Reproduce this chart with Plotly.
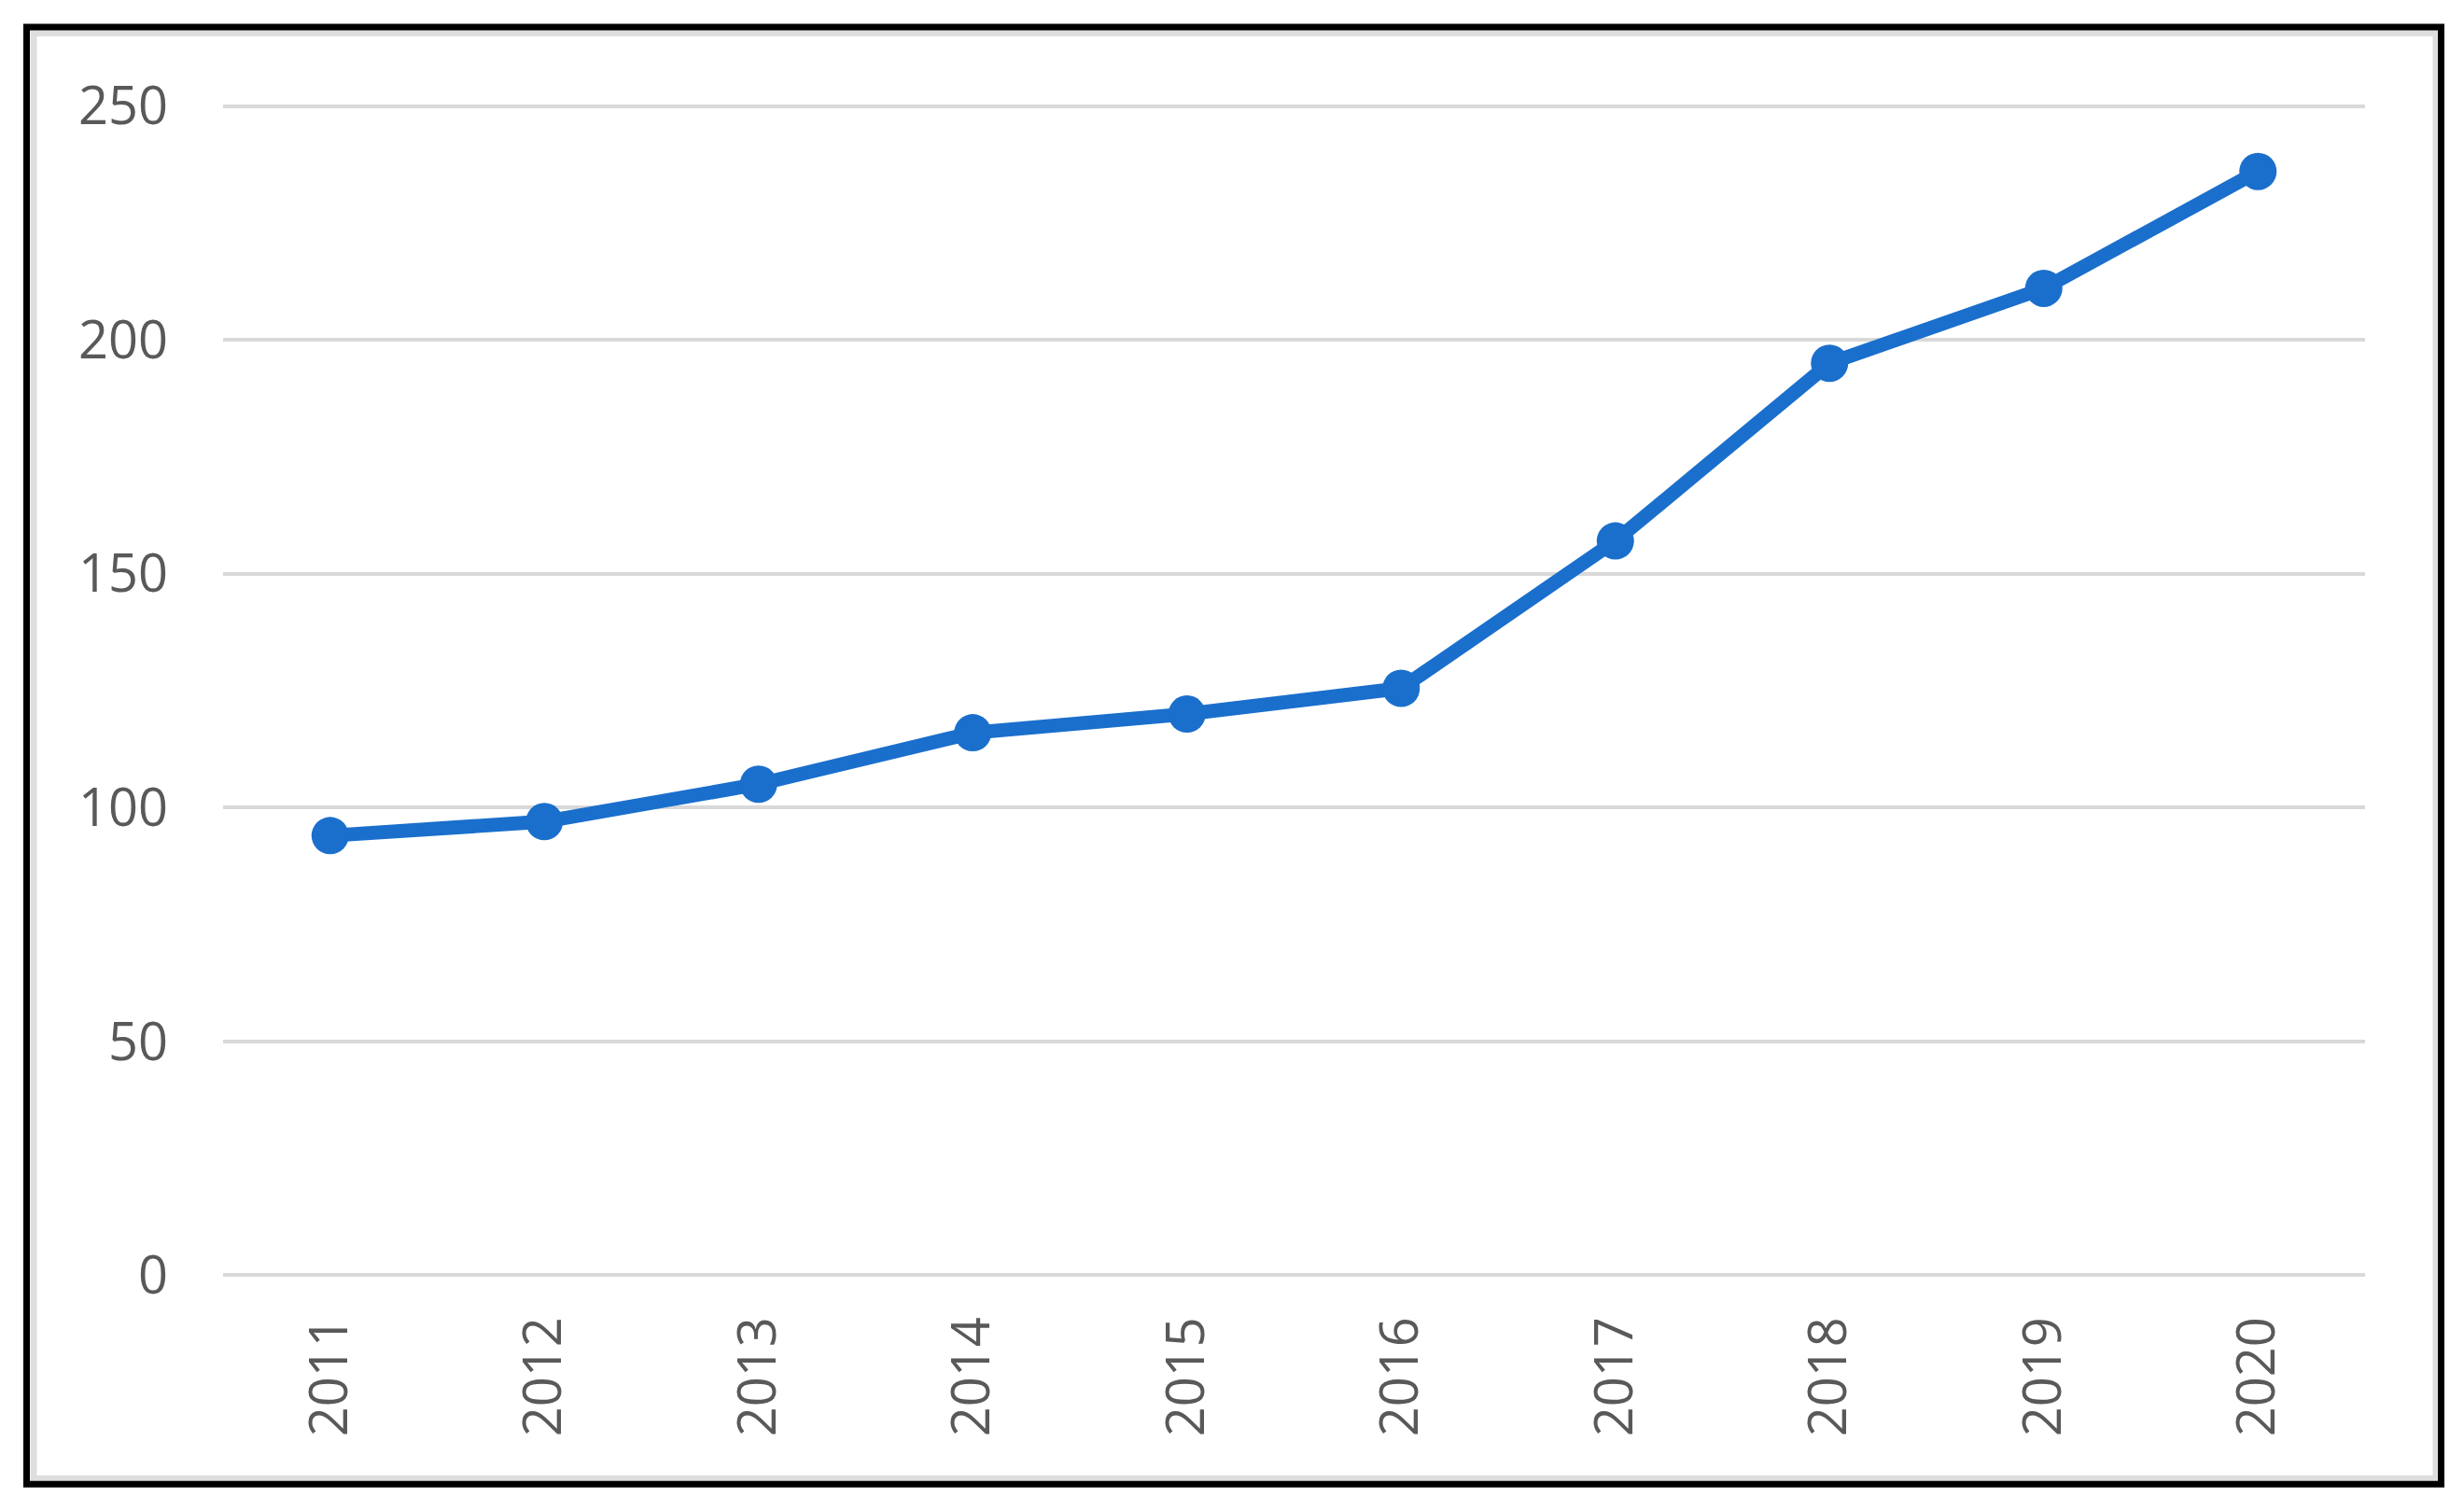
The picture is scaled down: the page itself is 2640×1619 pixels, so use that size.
import plotly.graph_objects as go

years = ["2011", "2012", "2013", "2014", "2015", "2016", "2017", "2018", "2019", "2020"]
values = [94, 97, 105, 116, 120, 125.5, 157, 195, 211, 236]
y_ticks = [0, 50, 100, 150, 200, 250]

W, H = 2640, 1619
PAD = 0.5  # small range padding so edge gridlines are drawn
SCALE = 1252 / 250.0
L, R = 239, 106
T = 114 - PAD * SCALE
B = 253 - PAD * SCALE
PW, PH = W - L - R, H - T - B

def px(x):
    return (x - L) / PW

def py(y):
    return (H - B - y) / PH

LINE = "#1a6fcc"
TXT = "#595959"
FONT = "Open Sans"

fig = go.Figure()
fig.add_trace(go.Scatter(
    x=years, y=values, mode="lines+markers",
    line=dict(color=LINE, width=15),
    marker=dict(color=LINE, size=40, line=dict(width=0)),
    showlegend=False, hoverinfo="skip",
))

shapes = [
    # inner light-gray frame
    dict(type="rect", xref="paper", yref="paper",
         x0=px(36), x1=px(2610), y0=py(1583.5), y1=py(36),
         line=dict(color="#dedede", width=7), layer="below"),
    # outer black frame
    dict(type="rect", xref="paper", yref="paper",
         x0=px(28.5), x1=px(2615.5), y0=py(1589.5), y1=py(29.5),
         line=dict(color="#000000", width=7), layer="above"),
]

fig.update_layout(
    width=W, height=H,
    margin=dict(l=L, r=R, t=T, b=B, pad=0),
    paper_bgcolor="white", plot_bgcolor="white",
    font=dict(family=FONT, color=TXT, size=56),
    shapes=shapes,
    xaxis=dict(
        type="category", range=[-0.5, len(years) - 0.5],
        tickangle=-90, showgrid=False, zeroline=False,
        showline=False, ticks="", ticklabelstandoff=30,
        tickfont=dict(family=FONT, size=56, color=TXT),
    ),
    yaxis=dict(
        range=[-PAD, 250 + PAD], tickvals=y_ticks, showgrid=True, gridcolor="#d9d9d9",
        gridwidth=4, zeroline=False, showline=False, ticks="",
        ticklabelstandoff=58,
        tickfont=dict(family=FONT, size=56, color=TXT),
    ),
)

fig.write_html(
    "out.html",
    config={"displayModeBar": False},
    post_script="document.body.style.margin='0';document.body.style.overflow='hidden';",
)
